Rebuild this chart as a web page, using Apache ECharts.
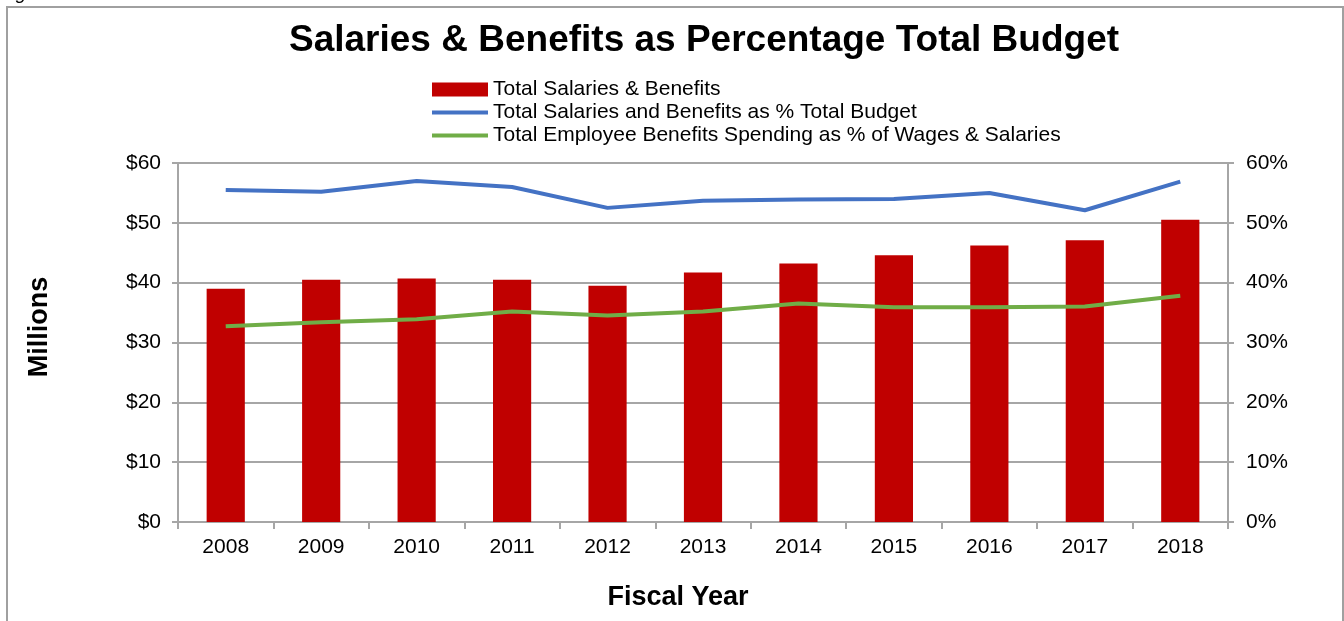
<!DOCTYPE html>
<html>
<head>
<meta charset="utf-8">
<script src="https://cdn.jsdelivr.net/npm/echarts@6/dist/echarts.min.js"></script>
<style>
  html, body { margin: 0; padding: 0; background: #fff; }
  #chart { width: 1344px; height: 621px; }
</style>
</head>
<body>
<div id="chart"></div>
<script>
// Fiscal years on the category axis
const years = ['2008', '2009', '2010', '2011', '2012', '2013', '2014', '2015', '2016', '2017', '2018'];
// Total salaries & benefits, millions of dollars
const salariesBenefits = [39.0, 40.5, 40.7, 40.5, 39.5, 41.7, 43.2, 44.6, 46.2, 47.1, 50.5];
// Salaries & benefits as a percentage of the total budget
const pctOfBudget = [55.5, 55.2, 57.0, 56.0, 52.5, 53.7, 53.9, 54.0, 55.0, 52.1, 56.9];
// Employee benefits spending as a percentage of wages & salaries
const pctOfWages = [32.7, 33.4, 33.9, 35.2, 34.5, 35.2, 36.5, 35.9, 35.9, 36.0, 37.8];

const seriesNames = [
  'Total Salaries & Benefits',
  'Total Salaries and Benefits as % Total Budget',
  'Total Employee Benefits Spending as % of Wages & Salaries'
];

const FONT = 'Liberation Sans, Arial, sans-serif';
const GRID_GREY = '#a6a6a6';
const RED = '#c00000';
const BLUE = '#4472c4';
const GREEN = '#70ad47';

const legendText = { fontFamily: FONT, fontSize: 21, lineHeight: 21, color: '#000' };

function legendRow(name, top, iconHeight) {
  return {
    orient: 'horizontal',
    left: 432,
    top: top,
    padding: 0,
    itemWidth: 56,
    itemHeight: iconHeight,
    icon: 'rect',
    selectedMode: false,
    textStyle: legendText,
    data: [name]
  };
}

const chart = echarts.init(document.getElementById('chart'), null, { renderer: 'canvas' });

chart.setOption({
  backgroundColor: '#fff',
  animation: false,
  textStyle: { fontFamily: FONT, color: '#000' },
  title: {
    text: 'Salaries & Benefits as Percentage Total Budget',
    left: 284,
    top: 17,
    textStyle: { fontFamily: FONT, fontSize: 37, fontWeight: 'bold', color: '#000' }
  },
  legend: [
    legendRow(seriesNames[0], 79, 14),
    legendRow(seriesNames[1], 102, 4),
    legendRow(seriesNames[2], 125, 4)
  ],
  graphic: [
    {
      type: 'rect',
      shape: { x: 7, y: 7, width: 1336, height: 640 },
      style: { fill: 'none', stroke: '#a0a0a0', lineWidth: 2 },
      silent: true
    },
    {
      type: 'text',
      left: 0,
      top: -16,
      style: { text: 'Figure 1', font: 'italic 19px ' + FONT, fill: '#000' },
      silent: true
    },
    {
      // vertical axis title
      type: 'text',
      x: 40,
      y: 327,
      rotation: Math.PI / 2,
      style: {
        text: 'Millions',
        font: 'bold 27px ' + FONT,
        fill: '#000',
        align: 'center',
        verticalAlign: 'middle'
      },
      silent: true
    },
    {
      // horizontal axis title
      type: 'text',
      x: 678,
      y: 598,
      style: {
        text: 'Fiscal Year',
        font: 'bold 27px ' + FONT,
        fill: '#000',
        align: 'center',
        verticalAlign: 'middle'
      },
      silent: true
    }
  ],
  grid: { left: 178, right: 116, top: 163, bottom: 99, containLabel: false },
  xAxis: {
    type: 'category',
    data: years,
    axisLine: { lineStyle: { color: GRID_GREY, width: 2 } },
    axisTick: { show: true, length: 7, lineStyle: { color: GRID_GREY, width: 2 } },
    axisLabel: { fontFamily: FONT, fontSize: 21, color: '#000', margin: 15 }
  },
  yAxis: [
    {
      type: 'value',
      min: 0, max: 60, interval: 10,
      axisLine: { show: true, lineStyle: { color: GRID_GREY, width: 2 } },
      axisTick: { show: true, length: 6, lineStyle: { color: GRID_GREY, width: 2 } },
      splitLine: { show: true, lineStyle: { color: GRID_GREY, width: 2 } },
      axisLabel: { fontFamily: FONT, fontSize: 21, color: '#000', margin: 17, formatter: v => '$' + v }
    },
    {
      type: 'value',
      min: 0, max: 60, interval: 10,
      position: 'right',
      axisLine: { show: true, lineStyle: { color: GRID_GREY, width: 2 } },
      axisTick: { show: true, length: 6, lineStyle: { color: GRID_GREY, width: 2 } },
      splitLine: { show: false },
      axisLabel: { fontFamily: FONT, fontSize: 21, color: '#000', margin: 18, formatter: v => v + '%' }
    }
  ],
  series: [
    {
      name: seriesNames[0],
      type: 'bar',
      yAxisIndex: 0,
      data: salariesBenefits,
      barWidth: '40%',
      itemStyle: { color: RED }
    },
    {
      name: seriesNames[1],
      type: 'line',
      yAxisIndex: 1,
      data: pctOfBudget,
      symbol: 'none',
      lineStyle: { color: BLUE, width: 4 },
      itemStyle: { color: BLUE }
    },
    {
      name: seriesNames[2],
      type: 'line',
      yAxisIndex: 1,
      data: pctOfWages,
      symbol: 'none',
      lineStyle: { color: GREEN, width: 4 },
      itemStyle: { color: GREEN }
    }
  ]
});
</script>
</body>
</html>
